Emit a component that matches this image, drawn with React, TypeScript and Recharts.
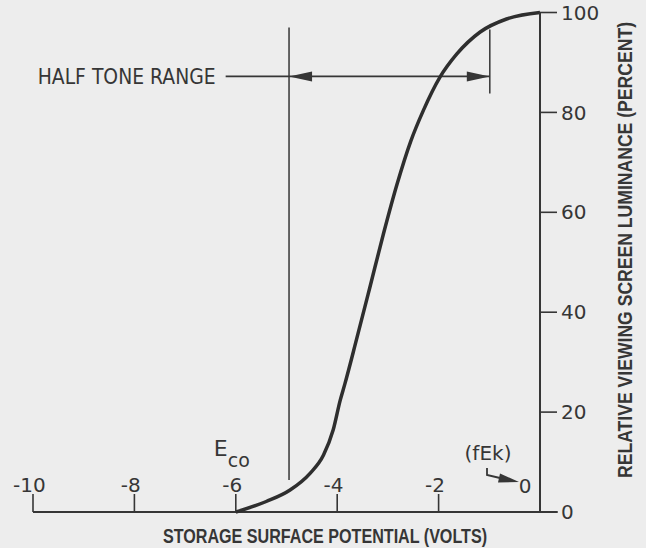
import React from 'react';
import { LineChart, Line, XAxis, YAxis, ReferenceLine, ReferenceDot } from 'recharts';

// storage surface potential (volts) vs relative screen luminance (%)
const volts = [-6, -5.4, -4.93, -4.54, -4.27, -4.08, -3.94, -3.85, -3.62, -3.36, -3.09, -2.82, -2.55, -2.3, -1.97, -1.64, -1.18, -0.66, 0];
const luminance = [0, 2.1, 4.4, 7.7, 11.4, 16.4, 22.4, 25.6, 34.5, 44.8, 55.6, 65.6, 74.2, 80.4, 87.1, 91.7, 96.1, 98.7, 100];

const voltTicks = [-10, -8, -6, -4, -2, 0];
const lumTicks = [0, 20, 40, 60, 80, 100];

// half tone range markers
const halfToneStart = -4.95;
const halfToneEnd = -0.99;
const halfToneLevel = 87.2;
const halfToneLeaderStart = -6.2;
const cutoffVolts = -6;

const data = volts.map((v, i) => ({ v, lum: luminance[i] }));

const INK = '#363636';
const FONT = '"DejaVu Sans", sans-serif';
const NARROW = '"Liberation Sans Narrow", "Liberation Sans", sans-serif';

const VoltTick = (props: any) => {
  const { x, y, payload } = props;
  const v = payload.value as number;
  const label = String(v);
  if (v === 0) {
    return (
      <text x={x - 15} y={y - 19} textAnchor="middle" fontSize={20} fontFamily={FONT} fill={INK}>
        {label}
      </text>
    );
  }
  const digitsW = String(Math.abs(v)).length * 12.7;
  return (
    <g>
      <line x1={x} y1={y} x2={x} y2={y - 18} stroke={INK} strokeWidth={1.6} />
      <text x={x + digitsW / 2} y={y - 20} textAnchor="end" fontSize={20} fontFamily={FONT} fill={INK}>
        {label}
      </text>
    </g>
  );
};

const ArrowSpan = (p: any) => {
  const { x1, y1, x2, y2 } = p;
  const len = 23;
  const hw = 5;
  return (
    <g>
      <line x1={x1} y1={y1} x2={x2} y2={y2} stroke={INK} strokeWidth={1.8} />
      <polygon points={`${x1},${y1} ${x1 + len},${y1 - hw} ${x1 + len},${y1 + hw}`} fill={INK} />
      <polygon points={`${x2},${y2} ${x2 - len},${y2 - hw} ${x2 - len},${y2 + hw}`} fill={INK} />
    </g>
  );
};

const HalfToneText = (p: any) => (
  <text
    x={p.cx - 10}
    y={p.cy + 8}
    textAnchor="end"
    fontSize={22}
    fontFamily={FONT}
    fill={INK}
    textLength={178}
    lengthAdjust="spacingAndGlyphs"
  >
    HALF TONE RANGE
  </text>
);

const CutoffText = (p: any) => (
  <text x={p.cx - 22} y={p.cy - 56} fontSize={22} fontFamily={FONT} fill={INK}>
    E
    <tspan dy={11} fontSize={19}>co</tspan>
  </text>
);

const CathodeText = (p: any) => {
  const { cx, cy } = p;
  return (
    <g>
      <text x={cx - 52} y={cy - 52} textAnchor="middle" fontSize={20} fontFamily={FONT} fill={INK}>
        (fEk)
      </text>
      <polyline
        points={`${cx - 53},${cy - 44} ${cx - 53},${cy - 37} ${cx - 40},${cy - 34}`}
        fill="none"
        stroke={INK}
        strokeWidth={1.8}
      />
      <polygon
        points={`${cx - 21},${cy - 30} ${cx - 42},${cy - 29.5} ${cx - 40},${cy - 38.5}`}
        fill={INK}
      />
    </g>
  );
};

const XTitle = (p: any) => {
  const vb = p.viewBox;
  return (
    <text
      x={vb.x + 292}
      y={vb.y + 31}
      textAnchor="middle"
      fontSize={21}
      fontWeight="bold"
      fontFamily={NARROW}
      fill={INK}
      textLength={324}
      lengthAdjust="spacingAndGlyphs"
    >
      STORAGE SURFACE POTENTIAL (VOLTS)
    </text>
  );
};

const YTitle = (p: any) => {
  const vb = p.viewBox;
  const x = vb.x + vb.width - 14;
  const y = 250;
  return (
    <text
      x={x}
      y={y}
      transform={`rotate(-90 ${x} ${y})`}
      textAnchor="middle"
      fontSize={21}
      fontWeight="bold"
      fontFamily={NARROW}
      fill={INK}
      textLength={456}
      lengthAdjust="spacingAndGlyphs"
    >
      RELATIVE VIEWING SCREEN LUMINANCE (PERCENT)
    </text>
  );
};

export default function App() {
  return (
    <div style={{ position: 'absolute', left: 0, top: 0, width: 646, height: 548, background: '#ededed' }}>
      <LineChart width={646} height={548} data={data} margin={{ top: 12.5, right: 0, left: 33, bottom: 0 }}>
        <XAxis
          dataKey="v"
          type="number"
          domain={[-10, 0]}
          ticks={voltTicks}
          height={36}
          axisLine={false}
          tickLine={false}
          tickSize={0}
          tickMargin={0}
          tick={<VoltTick />}
          label={{ content: <XTitle /> }}
        />
        <YAxis
          orientation="right"
          type="number"
          domain={[0, 100]}
          ticks={lumTicks}
          width={106}
          axisLine={{ stroke: INK, strokeWidth: 2 }}
          tickLine={{ stroke: INK, strokeWidth: 1.6 }}
          tickSize={17}
          tickMargin={4}
          tick={{ fill: INK, fontSize: 20, fontFamily: FONT }}
          label={{ content: <YTitle /> }}
        />
        {/* x axis line, running a little past the luminance axis */}
        <ReferenceLine
          segment={[{ x: -10, y: 0 }, { x: 0.35, y: 0 }]}
          stroke={INK}
          strokeWidth={2}
          ifOverflow="visible"
        />
        <ReferenceLine
          segment={[{ x: halfToneStart, y: 97 }, { x: halfToneStart, y: 6.4 }]}
          stroke={INK}
          strokeWidth={1.5}
        />
        <ReferenceLine
          segment={[{ x: halfToneEnd, y: 96.6 }, { x: halfToneEnd, y: 83.8 }]}
          stroke={INK}
          strokeWidth={1.5}
        />
        <ReferenceLine
          segment={[{ x: halfToneLeaderStart, y: halfToneLevel }, { x: halfToneStart, y: halfToneLevel }]}
          stroke={INK}
          strokeWidth={1.8}
        />
        <ReferenceLine
          segment={[{ x: halfToneStart, y: halfToneLevel }, { x: halfToneEnd, y: halfToneLevel }]}
          shape={ArrowSpan}
        />
        <ReferenceDot x={halfToneLeaderStart} y={halfToneLevel} r={0} shape={HalfToneText} />
        <ReferenceDot x={cutoffVolts} y={0} r={0} shape={CutoffText} />
        <ReferenceDot x={0} y={0} r={0} shape={CathodeText} />
        <Line
          type="monotone"
          dataKey="lum"
          stroke="#2e2e2e"
          strokeWidth={3.5}
          dot={false}
          isAnimationActive={false}
        />
      </LineChart>
    </div>
  );
}
